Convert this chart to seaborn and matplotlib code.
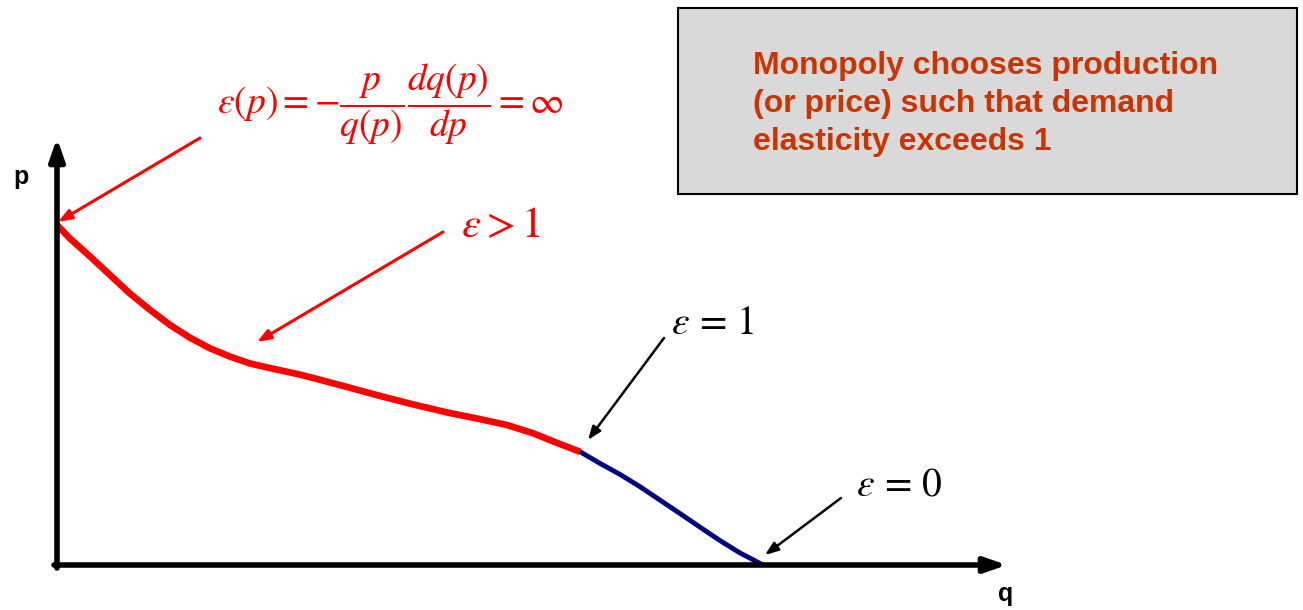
import numpy as np
import pandas as pd
import matplotlib
matplotlib.use('Agg')
import matplotlib.pyplot as plt
import seaborn as sns
from matplotlib.patches import Rectangle

# Demand curve (q on x, p on y)
q_vals = [0.0, 0.18, 0.47, 0.75, 1.03, 1.32, 1.60, 1.88, 2.17, 2.45, 2.73,
          3.02, 3.40, 3.63, 4.10, 4.58, 5.05, 5.52, 5.99, 6.37, 6.75, 7.12,
          7.41, 7.69, 7.97, 8.26, 8.54, 8.82, 9.11, 9.39, 9.67, 10.0]
p_vals = [10.0, 9.61, 9.07, 8.53, 7.99, 7.50, 7.06, 6.69, 6.37, 6.13, 5.93,
          5.79, 5.62, 5.50, 5.24, 4.97, 4.72, 4.49, 4.29, 4.12, 3.87, 3.56,
          3.33, 2.99, 2.67, 2.30, 1.91, 1.52, 1.11, 0.72, 0.36, 0.0]
n_elastic = 23  # points of the elastic (red) part, up to eps = 1

box_lines = ['Monopoly chooses production',
             '(or price) such that demand',
             'elasticity exceeds 1']
eq_label = r'$\varepsilon(p)=-\dfrac{p}{q(p)}\dfrac{dq(p)}{dp}=\infty$'

demand = pd.DataFrame({'q': q_vals, 'p': p_vals})
elastic = demand.iloc[:n_elastic]

sns.set_style('white')
plt.rcParams['mathtext.fontset'] = 'stix'
plt.rcParams['font.family'] = ['Liberation Sans', 'DejaVu Sans']

W, H = 1303, 610
fig = plt.figure(figsize=(W / 100, H / 100), dpi=100)
ax = fig.add_axes([0, 0, 1, 1])

# pixel scale: origin at (57, 565), q=10 at x=763, p=10 at y=225
sx, sy = 70.6, 34.0
ax.set_xlim(-57 / sx, (W - 57) / sx)
ax.set_ylim(-(H - 565) / sy, 565 / sy)
ax.axis('off')

def d(x, y):
    return ((x - 57) / sx, (565 - y) / sy)

# axes with arrow heads
ax.annotate('', xy=d(57, 138), xytext=d(57, 568),
            arrowprops=dict(arrowstyle='-|>,head_length=1.3,head_width=0.45',
                            color='black', lw=4, shrinkA=0, shrinkB=0))
ax.annotate('', xy=d(1007, 565), xytext=d(54, 565),
            arrowprops=dict(arrowstyle='-|>,head_length=1.3,head_width=0.45',
                            color='black', lw=4, shrinkA=0, shrinkB=0))

sns.lineplot(data=demand, x='q', y='p', ax=ax, color='#000080', lw=3.5,
             sort=False, solid_capstyle='butt', solid_joinstyle='round')
sns.lineplot(data=elastic, x='q', y='p', ax=ax, color='#ff0000', lw=4.8,
             sort=False, solid_capstyle='butt', solid_joinstyle='round')

fig.text(21 / W, 1 - 177 / H, 'p', fontsize=18, fontweight='bold', color='black',
         ha='center', va='center')
fig.text(1006 / W, 1 - 594 / H, 'q', fontsize=18, fontweight='bold', color='black',
         ha='center', va='center')

# annotations
red_arrow = dict(arrowstyle='-|>,head_length=0.8,head_width=0.3', color='#ff0000',
                 lw=2.2, shrinkA=0, shrinkB=0)
black_arrow = dict(arrowstyle='-|>,head_length=0.8,head_width=0.3', color='black',
                   lw=1.8, shrinkA=0, shrinkB=0)

ax.text(*d(390, 104), eq_label, color='#ff0000', fontsize=27, ha='center', va='center')
ax.annotate('', xy=d(58, 222), xytext=d(200, 138), arrowprops=red_arrow)

ax.text(*d(461, 226), r'$\varepsilon >1$', color='#ff0000', fontsize=31, ha='left', va='center')
ax.annotate('', xy=d(257, 342), xytext=d(443, 232), arrowprops=red_arrow)

ax.text(*d(671, 323), r'$\varepsilon\,=\,1$', color='black', fontsize=28.5, ha='left', va='center')
ax.annotate('', xy=d(588, 440), xytext=d(664, 338), arrowprops=black_arrow)

ax.text(*d(856, 485), r'$\varepsilon\,=\,0$', color='black', fontsize=28.5, ha='left', va='center')
ax.annotate('', xy=d(765, 555), xytext=d(841, 498), arrowprops=black_arrow)

# text box
fig.patches.append(Rectangle((678 / W, 1 - 194 / H), 619 / W, 186 / H,
                             transform=fig.transFigure, facecolor='#d9d9d9',
                             edgecolor='black', lw=1.5))
fig.text(753 / W, 1 - 104 / H, '\n'.join(box_lines), color='#cc3300', fontsize=23,
         fontweight='bold', ha='left', va='center', linespacing=1.34)

fig.savefig('out.png', dpi=100)
